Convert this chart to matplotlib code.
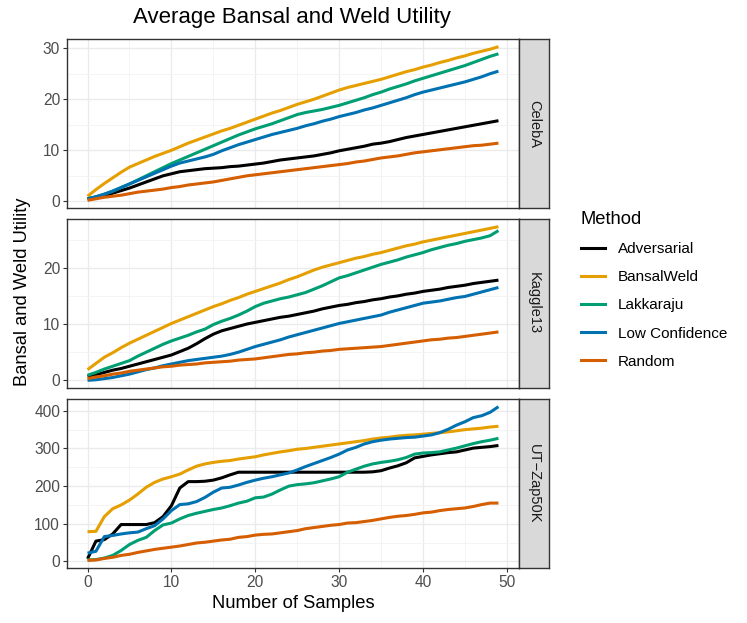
import numpy as np
import matplotlib
matplotlib.use("Agg")
import matplotlib.pyplot as plt
from matplotlib.ticker import MultipleLocator
from matplotlib.lines import Line2D

plt.rcParams['font.family'] = ['Liberation Sans', 'DejaVu Sans']

samples = list(range(50))
methods = ["Adversarial", "BansalWeld", "Lakkaraju", "Low Confidence", "Random"]
colors = ["#000000", "#E69F00", "#009E73", "#0072B2", "#D55E00"]
datasets = ["CelebA", "Kaggle13", "UT\u2212Zap50K"]

# CelebA
celeba_adv = [0.5, 0.8, 1.1, 1.6, 2.1, 2.6, 3.2, 3.8, 4.4, 5.0, 5.4, 5.8, 6.0, 6.2, 6.4, 6.5, 6.6, 6.8, 6.9, 7.1,
              7.3, 7.5, 7.8, 8.1, 8.3, 8.5, 8.7, 8.9, 9.2, 9.5, 9.9, 10.2, 10.5, 10.8, 11.2, 11.4, 11.7, 12.1, 12.5, 12.8,
              13.1, 13.4, 13.7, 14.0, 14.3, 14.6, 14.9, 15.2, 15.5, 15.8]
celeba_bw = [1.0, 2.3, 3.5, 4.6, 5.7, 6.7, 7.4, 8.1, 8.8, 9.4, 10.0, 10.7, 11.4, 12.0, 12.6, 13.2, 13.8, 14.3, 14.9, 15.5,
             16.1, 16.7, 17.3, 17.8, 18.4, 19.0, 19.5, 20.0, 20.6, 21.2, 21.8, 22.3, 22.7, 23.1, 23.5, 23.9, 24.4, 24.9, 25.4, 25.8,
             26.3, 26.7, 27.2, 27.6, 28.1, 28.5, 29.0, 29.4, 29.8, 30.3]
celeba_lak = [0.5, 0.9, 1.4, 2.0, 2.7, 3.4, 4.2, 5.0, 5.8, 6.6, 7.4, 8.1, 8.8, 9.5, 10.2, 10.9, 11.6, 12.3, 13.0, 13.6,
              14.2, 14.7, 15.2, 15.8, 16.4, 17.0, 17.4, 17.7, 18.0, 18.4, 18.8, 19.3, 19.8, 20.3, 20.9, 21.4, 22.0, 22.5, 23.0, 23.6,
              24.1, 24.6, 25.1, 25.6, 26.1, 26.6, 27.2, 27.8, 28.4, 28.9]
celeba_low = [0.5, 0.9, 1.4, 2.0, 2.7, 3.4, 4.1, 4.8, 5.5, 6.2, 6.9, 7.5, 7.9, 8.3, 8.7, 9.2, 9.9, 10.5, 11.1, 11.6,
              12.1, 12.6, 13.1, 13.5, 13.9, 14.3, 14.8, 15.2, 15.7, 16.1, 16.6, 17.0, 17.4, 17.9, 18.3, 18.8, 19.3, 19.8, 20.3, 20.9,
              21.4, 21.8, 22.2, 22.6, 23.0, 23.4, 23.9, 24.4, 25.0, 25.5]
celeba_rand = [0.2, 0.5, 0.8, 1.0, 1.2, 1.5, 1.8, 2.0, 2.2, 2.4, 2.7, 2.9, 3.2, 3.4, 3.6, 3.8, 4.1, 4.4, 4.7, 5.0,
               5.2, 5.4, 5.6, 5.8, 6.0, 6.2, 6.4, 6.6, 6.8, 7.0, 7.2, 7.4, 7.7, 7.9, 8.2, 8.5, 8.7, 8.9, 9.2, 9.5,
               9.7, 9.9, 10.1, 10.3, 10.5, 10.7, 10.9, 11.0, 11.2, 11.4]

# Kaggle13
kaggle_adv = [0.7, 1.0, 1.4, 1.8, 2.1, 2.5, 2.9, 3.3, 3.7, 4.1, 4.5, 5.1, 5.7, 6.5, 7.4, 8.2, 8.8, 9.2, 9.6, 10.0,
              10.3, 10.6, 10.9, 11.2, 11.4, 11.7, 12.0, 12.3, 12.7, 13.0, 13.3, 13.5, 13.8, 14.0, 14.3, 14.5, 14.8, 15.0, 15.3, 15.5,
              15.8, 16.0, 16.2, 16.5, 16.7, 16.9, 17.2, 17.4, 17.6, 17.8]
kaggle_bw = [1.9, 3.0, 4.1, 4.9, 5.8, 6.6, 7.3, 8.0, 8.7, 9.4, 10.1, 10.7, 11.3, 11.9, 12.5, 13.1, 13.6, 14.2, 14.7, 15.3,
             15.8, 16.3, 16.8, 17.3, 17.9, 18.4, 19.0, 19.6, 20.1, 20.5, 20.9, 21.3, 21.7, 22.0, 22.4, 22.7, 23.1, 23.5, 23.9, 24.2,
             24.6, 24.9, 25.2, 25.5, 25.8, 26.1, 26.4, 26.7, 27.0, 27.3]
kaggle_lak = [0.9, 1.4, 2.0, 2.5, 3.0, 3.5, 4.3, 5.0, 5.7, 6.4, 7.0, 7.5, 8.0, 8.6, 9.1, 9.9, 10.5, 11.0, 11.6, 12.3,
              13.1, 13.7, 14.1, 14.5, 14.8, 15.2, 15.6, 16.2, 16.8, 17.5, 18.2, 18.6, 19.1, 19.6, 20.1, 20.6, 21.0, 21.4, 21.9, 22.3,
              22.7, 23.2, 23.6, 24.0, 24.3, 24.7, 25.0, 25.3, 25.7, 26.6]
kaggle_low = [0.0, 0.1, 0.3, 0.5, 0.8, 1.1, 1.5, 1.9, 2.2, 2.6, 2.9, 3.2, 3.5, 3.7, 3.9, 4.1, 4.3, 4.6, 5.0, 5.5,
              6.0, 6.4, 6.8, 7.2, 7.7, 8.1, 8.5, 8.9, 9.3, 9.7, 10.1, 10.4, 10.7, 11.0, 11.3, 11.6, 12.1, 12.5, 12.9, 13.3,
              13.7, 13.9, 14.1, 14.4, 14.7, 14.9, 15.3, 15.7, 16.1, 16.5]
kaggle_rand = [0.3, 0.6, 0.8, 1.1, 1.3, 1.6, 1.8, 2.0, 2.2, 2.4, 2.5, 2.7, 2.8, 2.9, 3.1, 3.2, 3.3, 3.4, 3.6, 3.7,
               3.8, 4.0, 4.2, 4.4, 4.6, 4.7, 4.9, 5.0, 5.2, 5.3, 5.5, 5.6, 5.7, 5.8, 5.9, 6.0, 6.2, 6.4, 6.6, 6.8,
               7.0, 7.2, 7.3, 7.5, 7.6, 7.8, 8.0, 8.2, 8.4, 8.6]

# UT-Zap50K
zap_adv = [7, 54, 58, 73, 98, 98, 98, 98, 103, 119, 148, 195, 212, 212, 213, 216, 222, 230, 237, 237,
           237, 237, 237, 237, 237, 237, 237, 237, 237, 237, 237, 237, 237, 237, 238, 241, 248, 254, 262, 275,
           279, 283, 286, 289, 291, 296, 301, 303, 305, 308]
zap_bw = [79, 80, 119, 140, 150, 163, 179, 197, 210, 219, 225, 232, 243, 253, 259, 263, 266, 268, 272, 275,
          278, 283, 287, 291, 294, 298, 300, 303, 306, 309, 312, 315, 318, 321, 325, 328, 330, 333, 335, 336,
          338, 340, 342, 344, 347, 350, 352, 354, 357, 359]
zap_lak = [4, 5, 9, 16, 29, 45, 56, 64, 82, 97, 102, 113, 122, 128, 133, 138, 142, 148, 155, 160,
           169, 171, 179, 190, 200, 204, 206, 209, 214, 219, 225, 237, 245, 253, 259, 263, 266, 270, 276, 285,
           288, 289, 291, 296, 301, 307, 313, 318, 322, 327]
zap_low = [22, 27, 66, 69, 73, 76, 78, 87, 95, 113, 135, 151, 153, 159, 170, 184, 195, 197, 203, 210,
           216, 221, 225, 230, 235, 243, 252, 260, 268, 276, 285, 296, 303, 312, 318, 322, 325, 327, 329, 330,
           333, 336, 342, 351, 362, 371, 382, 387, 396, 411]
zap_rand = [3, 4, 8, 11, 16, 19, 24, 28, 32, 35, 38, 41, 45, 49, 51, 54, 57, 59, 64, 66,
            70, 72, 73, 76, 79, 82, 87, 90, 93, 96, 98, 102, 103, 106, 109, 113, 117, 120, 122, 125,
            129, 131, 135, 138, 140, 142, 146, 151, 155, 155]

panels = [
    [celeba_adv, celeba_bw, celeba_lak, celeba_low, celeba_rand],
    [kaggle_adv, kaggle_bw, kaggle_lak, kaggle_low, kaggle_rand],
    [zap_adv, zap_bw, zap_lak, zap_low, zap_rand],
]
y_major = [10, 10, 100]

W, H = 747, 623
fig = plt.figure(figsize=(W / 100, H / 100), dpi=100)

left, right = 67, 519
tops = [39, 219, 399]
ph = 169
strip_w = 30

for i, series in enumerate(panels):
    ax = fig.add_axes([left / W, 1 - (tops[i] + ph) / H, (right - left) / W, ph / H])
    for vals, c in zip(series, colors):
        ax.plot(samples, vals, color=c, lw=2.2, solid_capstyle='butt', zorder=3)
    allv = np.concatenate([np.array(v, float) for v in series])
    lo, hi = allv.min(), allv.max()
    pad = (hi - lo) * 0.05
    ax.set_ylim(lo - pad, hi + pad)
    ax.set_xlim(-2.45, 51.45)
    ax.xaxis.set_major_locator(MultipleLocator(10))
    ax.xaxis.set_minor_locator(MultipleLocator(5))
    ax.yaxis.set_major_locator(MultipleLocator(y_major[i]))
    ax.yaxis.set_minor_locator(MultipleLocator(y_major[i] / 2))
    ax.grid(which='major', color='#EBEBEB', lw=1.0, zorder=0)
    ax.grid(which='minor', color='#F3F3F3', lw=0.6, zorder=0)
    ax.set_axisbelow(True)
    for s in ax.spines.values():
        s.set_color('#333333')
        s.set_linewidth(1.0)
    ax.tick_params(which='major', length=3, width=0.8, color='#333333',
                   labelsize=11.2, labelcolor='#4D4D4D', pad=2)
    ax.tick_params(which='minor', length=0)
    if i < 2:
        ax.tick_params(axis='x', labelbottom=False, length=0, which='major')

    # facet strip
    sax = fig.add_axes([right / W, 1 - (tops[i] + ph) / H, strip_w / W, ph / H])
    sax.set_facecolor('#D9D9D9')
    sax.set_xticks([])
    sax.set_yticks([])
    for s in sax.spines.values():
        s.set_color('#333333')
        s.set_linewidth(1.0)
    sax.text(0.5, 0.5, datasets[i], rotation=-90, ha='center', va='center',
             fontsize=10.5, color='#1A1A1A', transform=sax.transAxes)

fig.text(292 / W, 1 - 18 / H, "Average Bansal and Weld Utility", ha='center', va='center', fontsize=16)
fig.text(293 / W, 1 - 604 / H, "Number of Samples", ha='center', va='center', fontsize=13.2)
fig.text(23 / W, 1 - 292 / H, "Bansal and Weld Utility", ha='center', va='center',
         rotation=90, fontsize=13.2)

handles = [Line2D([0], [0], color=c, lw=2.2) for c in colors]
leg = fig.legend(handles, methods, title="Method", loc='upper left',
                 bbox_to_anchor=(567 / W, 1 - 197 / H), frameon=False,
                 fontsize=11, title_fontsize=13.2, handlelength=1.6,
                 labelspacing=0.93, handletextpad=0.85)
leg._legend_box.align = 'left'

fig.savefig("out.png", dpi=100)
